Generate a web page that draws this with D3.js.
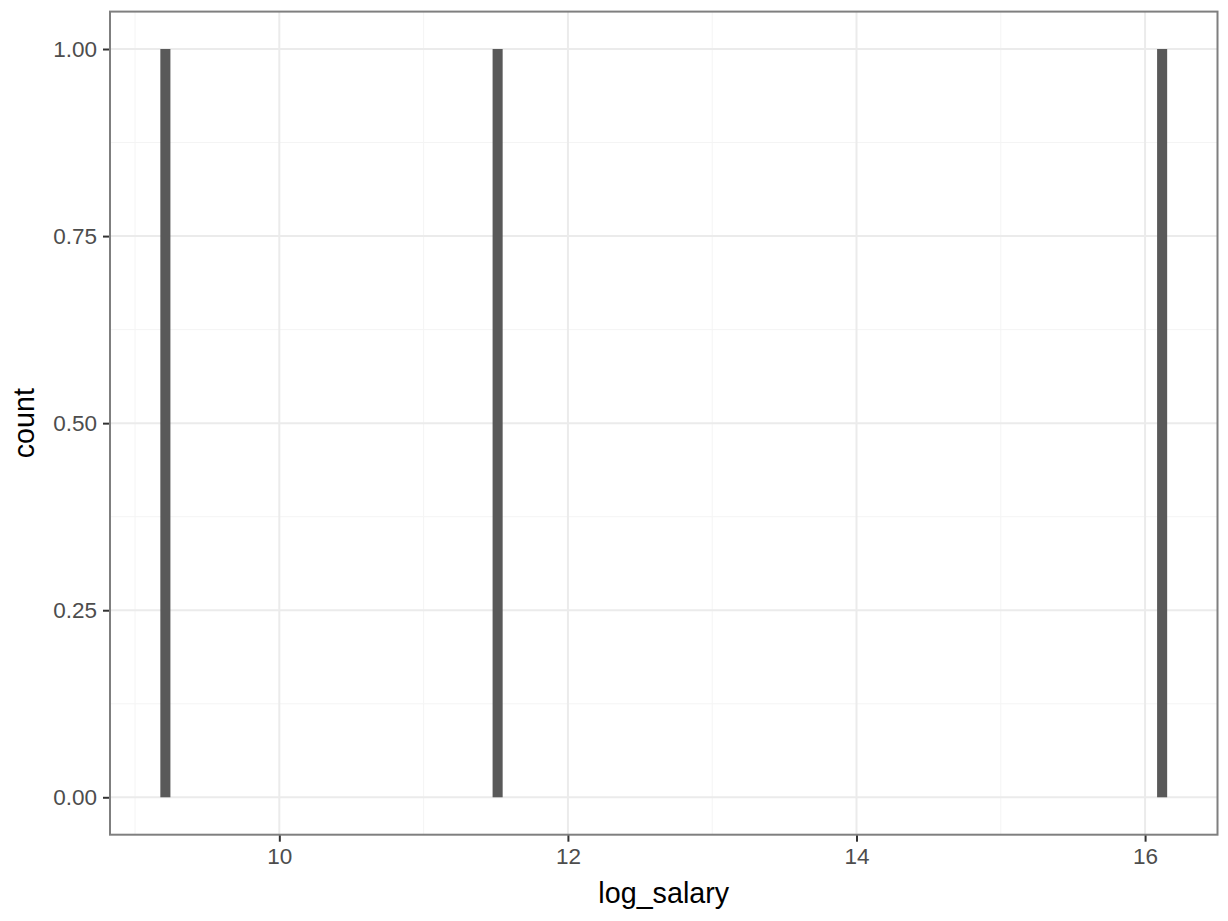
<!DOCTYPE html>
<html>
<head>
<meta charset="utf-8">
<script src="https://cdn.jsdelivr.net/npm/d3@7"></script>
<style>
  body { margin: 0; background: #fff; }
  text { font-family: "Liberation Sans", Arial, sans-serif; }
</style>
</head>
<body>
<div id="chart"></div>
<script>
// histogram bins (centre in log_salary units) and their counts
const binCenters = [9.2103, 11.5129, 16.1181];
const binCounts = [1, 1, 1];
const binWidth = 0.0698;

const xTicks = [10, 12, 14, 16];
const xMinorTicks = [9, 11, 13, 15];
const yTicks = [0, 0.25, 0.5, 0.75, 1];
const yMinorTicks = [0.125, 0.375, 0.625, 0.875];

const margin = { top: 11.6, right: 10.5, bottom: 86.3, left: 110 },
  width = 1228 - margin.left - margin.right,
  height = 921 - margin.top - margin.bottom;

const svg = d3.select("#chart")
  .append("svg")
  .attr("width", 1228)
  .attr("height", 921)
  .append("g")
  .attr("transform", "translate(" + margin.left + "," + margin.top + ")");

// ggplot-style 5% expansion around the bars
const xLo = d3.min(binCenters) - binWidth / 2,
  xHi = d3.max(binCenters) + binWidth / 2,
  xPad = (xHi - xLo) * 0.05;
const yHi = d3.max(binCounts), yPad = yHi * 0.05;

const x = d3.scaleLinear().domain([xLo - xPad, xHi + xPad]).range([0, width]);
const y = d3.scaleLinear().domain([-yPad, yHi + yPad]).range([height, 0]);

// minor grid
svg.append("g")
  .selectAll("line.xm")
  .data(xMinorTicks)
  .join("line")
  .attr("x1", d => x(d)).attr("x2", d => x(d))
  .attr("y1", 0).attr("y2", height)
  .attr("stroke", "#f4f4f4").attr("stroke-width", 1);
svg.append("g")
  .selectAll("line.ym")
  .data(yMinorTicks)
  .join("line")
  .attr("x1", 0).attr("x2", width)
  .attr("y1", d => y(d)).attr("y2", d => y(d))
  .attr("stroke", "#f4f4f4").attr("stroke-width", 1);

// major grid
svg.append("g")
  .selectAll("line")
  .data(xTicks)
  .join("line")
  .attr("x1", d => x(d)).attr("x2", d => x(d))
  .attr("y1", 0).attr("y2", height)
  .attr("stroke", "#ebebeb").attr("stroke-width", 2);
svg.append("g")
  .selectAll("line")
  .data(yTicks)
  .join("line")
  .attr("x1", 0).attr("x2", width)
  .attr("y1", d => y(d)).attr("y2", d => y(d))
  .attr("stroke", "#ebebeb").attr("stroke-width", 2);

// bars
svg.append("g")
  .selectAll("rect")
  .data(binCenters.map((c, i) => ({ c, n: binCounts[i] })))
  .join("rect")
  .attr("x", d => x(d.c - binWidth / 2))
  .attr("width", d => x(d.c + binWidth / 2) - x(d.c - binWidth / 2))
  .attr("y", d => y(d.n))
  .attr("height", d => y(0) - y(d.n))
  .attr("fill", "#595959");

// axes
const xAxis = svg.append("g")
  .attr("transform", "translate(0," + height + ")")
  .call(d3.axisBottom(x).tickValues(xTicks).tickSize(7).tickPadding(6).tickFormat(d3.format("d")));
const yAxis = svg.append("g")
  .call(d3.axisLeft(y).tickValues(yTicks).tickSize(7).tickPadding(6).tickFormat(d3.format(".2f")));

[xAxis, yAxis].forEach(a => {
  a.select(".domain").remove();
  a.selectAll(".tick line").attr("stroke", "#333333").attr("stroke-width", 2);
  a.selectAll(".tick text")
    .attr("fill", "#4d4d4d")
    .style("font-size", "22.5px")
    .style("font-family", "'Liberation Sans', Arial, sans-serif");
});

// panel border
svg.append("rect")
  .attr("x", 0).attr("y", 0)
  .attr("width", width).attr("height", height)
  .attr("fill", "none")
  .attr("stroke", "#7f7f7f")
  .attr("stroke-width", 2);

// axis titles
svg.append("text")
  .attr("x", width / 2)
  .attr("y", height + 68)
  .attr("text-anchor", "middle")
  .style("font-size", "28.7px")
  .attr("fill", "#000")
  .text("log_salary");

svg.append("text")
  .attr("transform", "translate(" + (-margin.left + 34) + "," + (height / 2) + ") rotate(-90)")
  .attr("text-anchor", "middle")
  .style("font-size", "28.7px")
  .attr("fill", "#000")
  .text("count");
</script>
</body>
</html>
